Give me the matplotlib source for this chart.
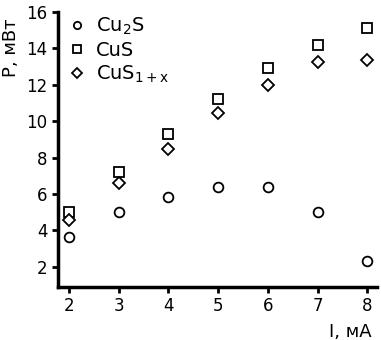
import matplotlib
matplotlib.use('Agg')
from matplotlib import pyplot as plt

plt.rcParams['font.family'] = ['DejaVu Sans']
plt.rcParams['mathtext.fontset'] = 'dejavusans'

current = [2, 3, 4, 5, 6, 7, 8]
p_cu2s = [3.65, 5.0, 5.85, 6.4, 6.4, 5.0, 2.3]
p_cus = [5.0, 7.2, 9.3, 11.2, 12.9, 14.2, 15.1]
p_cus1x = [4.6, 6.6, 8.5, 10.45, 12.0, 13.25, 13.35]

fig = plt.figure(figsize=(3.81, 3.4), dpi=100)
ax = fig.add_axes([0.152, 0.156, 0.838, 0.809])

style = dict(linestyle='none', markerfacecolor='white', markeredgecolor='black',
             markeredgewidth=1.3)
ax.plot(current, p_cu2s, marker='o', markersize=7, label='Cu$_\\mathrm{2}$S', **style)
ax.plot(current, p_cus, marker='s', markersize=7, label='CuS', **style)
ax.plot(current, p_cus1x, marker='D', markersize=6.5, label='CuS$_\\mathrm{1+x}$', **style)

ax.set_xlim(1.78, 8.2)
ax.set_ylim(0.9, 16)
ax.set_xticks(current)
ax.set_yticks([2, 4, 6, 8, 10, 12, 14, 16])

for s in ['top', 'right']:
    ax.spines[s].set_visible(False)
for s in ['left', 'bottom']:
    ax.spines[s].set_linewidth(2.5)
ax.tick_params(direction='out', length=4, width=2, labelsize=12)

ax.set_ylabel('P, мВт', fontsize=13)
ax.yaxis.set_label_coords(-0.12, 0.87)
ax.set_xlabel('I, мА', fontsize=13)
ax.xaxis.set_label_coords(0.915, -0.13)

ax.legend(loc='upper left', bbox_to_anchor=(0.028, 0.985), frameon=False,
          fontsize=14, markerscale=0.75, handlelength=1.0, handletextpad=0.5,
          labelspacing=0.2, borderaxespad=0, borderpad=0)

plt.savefig('out.png', dpi=100)
